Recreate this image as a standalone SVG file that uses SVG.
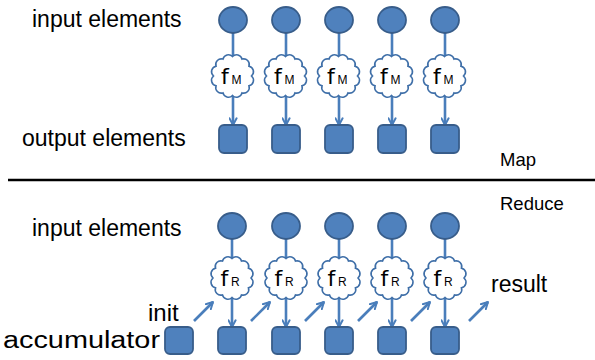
<svg xmlns="http://www.w3.org/2000/svg" width="595" height="360" viewBox="0 0 595 360">
  <style>
    .lbl { font-family: "Liberation Sans", Arial, sans-serif; font-size: 23px; fill: #000; }
    .sec { font-family: "Liberation Sans", Arial, sans-serif; font-size: 18.5px; fill: #000; }
    .fn { font-family: "DejaVu Sans", "Liberation Sans", sans-serif; font-size: 22px; fill: #000; }
    .sub { font-family: "Liberation Sans", Arial, sans-serif; font-size: 12px; fill: #000; }
    .elem { fill: #4f81bd; stroke: #385d8a; stroke-width: 1.8; }
    .cloud { fill: #fff; stroke: #3f6fa8; stroke-width: 1.6; }
    .wire { stroke: #4a7ebb; stroke-width: 2.6; fill: none; }
    .arrow { stroke: #4a7ebb; stroke-width: 2.6; fill: none; marker-end: url(#head); }
  </style>
  <defs>
    <marker id="head" viewBox="0 0 10 10" refX="8.5" refY="5" markerWidth="9" markerHeight="9" markerUnits="userSpaceOnUse" orient="auto">
      <path d="M1,1 L8.5,5 L1,9" fill="none" stroke="#4a7ebb" stroke-width="2.2" stroke-linecap="round" stroke-linejoin="round"/>
    </marker>
    <!-- bumpy cloud outline centred on 0,0 -->
    <path id="cloud" d="M19,0 A5.6,5.6 0 0 1 16.45,9.75 A5.6,5.6 0 0 1 9.5,16.89 A5.6,5.6 0 0 1 0,19.5 A5.6,5.6 0 0 1 -9.5,16.89 A5.6,5.6 0 0 1 -16.45,9.75 A5.6,5.6 0 0 1 -19,0 A5.6,5.6 0 0 1 -16.45,-9.75 A5.6,5.6 0 0 1 -9.5,-16.89 A5.6,5.6 0 0 1 0,-19.5 A5.6,5.6 0 0 1 9.5,-16.89 A5.6,5.6 0 0 1 16.45,-9.75 A5.6,5.6 0 0 1 19,0 Z"/>
  </defs>

  <rect width="595" height="360" fill="#fff"/>

  <!-- labels -->
  <text class="lbl" x="32" y="27">input elements</text>
  <text class="lbl" x="22" y="146">output elements</text>
  <text class="sec" x="500" y="166">Map</text>
  <text class="sec" x="500" y="210">Reduce</text>
  <text class="lbl" x="32" y="236">input elements</text>
  <text class="lbl" x="148" y="321" style="font-size:24px">init</text>
  <text class="lbl" x="3" y="348" textLength="157" lengthAdjust="spacingAndGlyphs">accumulator</text>
  <text class="lbl" x="491" y="292">result</text>

  <!-- divider -->
  <line x1="8" y1="180" x2="595" y2="180" stroke="#000" stroke-width="2.5"/>

  <!-- connectors -->
  <g id="connectors">
    <!-- map -->
    <line class="wire" x1="233" y1="33" x2="233" y2="56"/>
    <line class="wire" x1="286" y1="33" x2="286" y2="56"/>
    <line class="wire" x1="339" y1="33" x2="339" y2="56"/>
    <line class="wire" x1="392" y1="33" x2="392" y2="56"/>
    <line class="wire" x1="445" y1="33" x2="445" y2="56"/>
    <line class="arrow" x1="233" y1="96" x2="233" y2="125"/>
    <line class="arrow" x1="286" y1="96" x2="286" y2="125"/>
    <line class="arrow" x1="339" y1="96" x2="339" y2="125"/>
    <line class="arrow" x1="392" y1="96" x2="392" y2="125"/>
    <line class="arrow" x1="445" y1="96" x2="445" y2="125"/>
    <!-- reduce -->
    <line class="wire" x1="232" y1="239" x2="232" y2="258"/>
    <line class="wire" x1="286" y1="239" x2="286" y2="258"/>
    <line class="wire" x1="339" y1="239" x2="339" y2="258"/>
    <line class="wire" x1="392" y1="239" x2="392" y2="258"/>
    <line class="wire" x1="445" y1="239" x2="445" y2="258"/>
    <line class="arrow" x1="232" y1="298" x2="232" y2="327"/>
    <line class="arrow" x1="286" y1="298" x2="286" y2="327"/>
    <line class="arrow" x1="339" y1="298" x2="339" y2="327"/>
    <line class="arrow" x1="392" y1="298" x2="392" y2="327"/>
    <line class="arrow" x1="445" y1="298" x2="445" y2="327"/>
    <!-- accumulator hand-off -->
    <line class="arrow" x1="194" y1="321" x2="213" y2="302"/>
    <line class="arrow" x1="251" y1="321" x2="270" y2="302"/>
    <line class="arrow" x1="305" y1="321" x2="324" y2="302"/>
    <line class="arrow" x1="358" y1="321" x2="377" y2="302"/>
    <line class="arrow" x1="411" y1="321" x2="430" y2="302"/>
    <line class="arrow" x1="469" y1="321" x2="488" y2="302"/>
  </g>

  <!-- map nodes -->
  <g id="map-in-1"><ellipse class="elem" cx="233" cy="20" rx="14" ry="13"/></g>
  <g id="map-in-2"><ellipse class="elem" cx="286" cy="20" rx="14" ry="13"/></g>
  <g id="map-in-3"><ellipse class="elem" cx="339" cy="20" rx="14" ry="13"/></g>
  <g id="map-in-4"><ellipse class="elem" cx="392" cy="20" rx="14" ry="13"/></g>
  <g id="map-in-5"><ellipse class="elem" cx="445" cy="20" rx="14" ry="13"/></g>

  <g id="map-f-1"><use href="#cloud" class="cloud" x="232.5" y="76"/><text class="fn" x="221" y="84">f</text><text class="sub" x="231.5" y="84">M</text></g>
  <g id="map-f-2"><use href="#cloud" class="cloud" x="285.5" y="76"/><text class="fn" x="274" y="84">f</text><text class="sub" x="284.5" y="84">M</text></g>
  <g id="map-f-3"><use href="#cloud" class="cloud" x="338.5" y="76"/><text class="fn" x="327" y="84">f</text><text class="sub" x="337.5" y="84">M</text></g>
  <g id="map-f-4"><use href="#cloud" class="cloud" x="391.5" y="76"/><text class="fn" x="380" y="84">f</text><text class="sub" x="390.5" y="84">M</text></g>
  <g id="map-f-5"><use href="#cloud" class="cloud" x="444.5" y="76"/><text class="fn" x="433" y="84">f</text><text class="sub" x="443.5" y="84">M</text></g>

  <g id="map-out-1"><rect class="elem" x="219" y="125" width="28" height="28" rx="5"/></g>
  <g id="map-out-2"><rect class="elem" x="272" y="125" width="28" height="28" rx="5"/></g>
  <g id="map-out-3"><rect class="elem" x="325" y="125" width="28" height="28" rx="5"/></g>
  <g id="map-out-4"><rect class="elem" x="378" y="125" width="28" height="28" rx="5"/></g>
  <g id="map-out-5"><rect class="elem" x="431" y="125" width="28" height="28" rx="5"/></g>

  <!-- reduce nodes -->
  <g id="red-in-1"><ellipse class="elem" cx="232" cy="226" rx="14" ry="13"/></g>
  <g id="red-in-2"><ellipse class="elem" cx="286" cy="226" rx="14" ry="13"/></g>
  <g id="red-in-3"><ellipse class="elem" cx="339" cy="226" rx="14" ry="13"/></g>
  <g id="red-in-4"><ellipse class="elem" cx="392" cy="226" rx="14" ry="13"/></g>
  <g id="red-in-5"><ellipse class="elem" cx="445" cy="226" rx="14" ry="13"/></g>

  <g id="red-f-1"><use href="#cloud" class="cloud" x="232" y="278"/><text class="fn" x="220.5" y="286">f</text><text class="sub" x="231" y="286">R</text></g>
  <g id="red-f-2"><use href="#cloud" class="cloud" x="286" y="278"/><text class="fn" x="274.5" y="286">f</text><text class="sub" x="285" y="286">R</text></g>
  <g id="red-f-3"><use href="#cloud" class="cloud" x="339" y="278"/><text class="fn" x="327.5" y="286">f</text><text class="sub" x="338" y="286">R</text></g>
  <g id="red-f-4"><use href="#cloud" class="cloud" x="392" y="278"/><text class="fn" x="380.5" y="286">f</text><text class="sub" x="391" y="286">R</text></g>
  <g id="red-f-5"><use href="#cloud" class="cloud" x="445" y="278"/><text class="fn" x="433.5" y="286">f</text><text class="sub" x="444" y="286">R</text></g>

  <g id="accumulator"><rect class="elem" x="165" y="327" width="28" height="27" rx="5"/></g>
  <g id="red-out-1"><rect class="elem" x="218" y="327" width="28" height="27" rx="5"/></g>
  <g id="red-out-2"><rect class="elem" x="272" y="327" width="28" height="27" rx="5"/></g>
  <g id="red-out-3"><rect class="elem" x="325" y="327" width="28" height="27" rx="5"/></g>
  <g id="red-out-4"><rect class="elem" x="378" y="327" width="28" height="27" rx="5"/></g>
  <g id="red-out-5"><rect class="elem" x="431" y="327" width="28" height="27" rx="5"/></g>
</svg>
